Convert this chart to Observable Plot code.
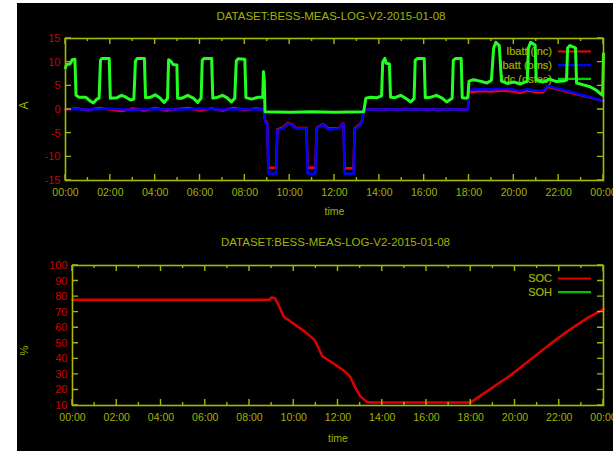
<!DOCTYPE html>
<html><head><meta charset="utf-8">
<script src="https://cdn.jsdelivr.net/npm/d3@7"></script>
<script src="https://cdn.jsdelivr.net/npm/@observablehq/plot@0.6"></script>
<style>
html,body{margin:0;padding:0;background:#fff;width:613px;height:451px;overflow:hidden}
#bg{position:absolute;left:17px;top:3px;width:596px;height:448px;background:#000}
.title{position:absolute;font-family:"Liberation Sans",Arial,sans-serif;font-size:11.5px;color:#a2b300;text-align:center;white-space:nowrap;line-height:13px}
#p1{position:absolute;left:17px;top:28px}
#p2{position:absolute;left:17px;top:255px}
</style></head><body>
<div id="bg"></div>
<div class="title" style="left:62px;width:538px;top:10px">DATASET:BESS-MEAS-LOG-V2-2015-01-08</div>
<div class="title" style="left:70px;width:531px;top:236px">DATASET:BESS-MEAS-LOG-V2-2015-01-08</div>
<div id="p1"></div>
<div id="p2"></div>
<script>
// ---------- data ----------
const xTicks = [0,2,4,6,8,10,12,14,16,18,20,22,24];
const xTickLabels = ["00:00","02:00","04:00","06:00","08:00","10:00","12:00","14:00","16:00","18:00","20:00","22:00","00:00"];
const xMinor = [1,3,5,7,9,11,13,15,17,19,21,23];
const yTicksA = [-15,-10,-5,0,5,10,15];
const yTicksPct = [10,20,30,40,50,60,70,80,90,100];
const legendTop = ["Ibatt (inc)","Ibatt (bms)","Idc (dstec)"];
const legendBottom = ["SOC","SOH"];

// Ibatt (inc) [hour, A]
const ibattInc = [[0,0],[0.5,0.2],[1,-0.1],[1.5,0.3],[2,0],[2.5,-0.3],[3,0.2],[3.5,-0.2],[4,0.3],[4.5,-0.2],[5,0.1],[5.5,0.3],[6,-0.2],[6.5,0.2],[7,-0.2],[7.5,0.3],[8,-0.1],[8.5,0.2],[8.85,0],
 [8.9,-2.2],[9.0,-3.0],[9.05,-12.3],[9.4,-12.3],[9.45,-4.2],[9.7,-3.8],[9.9,-2.9],[10.1,-3.1],[10.3,-3.9],[10.75,-3.9],[10.8,-12.3],[11.15,-12.3],[11.2,-3.9],[11.5,-3.1],[11.7,-4.0],[12.2,-3.9],[12.4,-2.9],[12.45,-12.4],[12.85,-12.4],[12.9,-4.0],[13.1,-3.3],[13.25,-2.3],[13.3,0],
 [17.95,0],[18.0,3.6],[18.5,3.9],[19.0,3.8],[19.5,4.0],[20.0,3.8],[20.3,3.5],[20.6,4.0],[21.0,3.7],[21.3,3.6],[21.5,4.8],[22.0,4.2],[22.5,3.6],[23.0,3.0],[23.5,2.4],[24.0,1.8]];

// Ibatt (bms) [hour, A]
const ibattBms = [[0,0.1],[1,0],[2,0.15],[3,-0.05],[4,0.1],[5,0],[6,0.15],[7,0],[8,0.1],[8.85,0],
 [8.9,-2.5],[9.0,-3.2],[9.05,-13.5],[9.4,-13.5],[9.45,-4.4],[9.7,-4.0],[9.9,-3.0],[10.1,-3.2],[10.3,-4.0],[10.75,-4.0],[10.8,-13.5],[11.15,-13.5],[11.2,-4.0],[11.5,-3.2],[11.7,-4.2],[12.2,-4.0],[12.4,-3.0],[12.45,-13.6],[12.85,-13.6],[12.9,-4.2],[13.1,-3.5],[13.25,-2.5],[13.3,0],
 [17.95,0],[18.0,4.1],[18.5,4.3],[19.0,4.2],[19.5,4.4],[20.0,4.2],[20.3,3.9],[20.6,4.3],[21.0,4.0],[21.3,3.9],[21.5,5.0],[22.0,4.4],[22.5,3.8],[23.0,3.1],[23.5,2.5],[24.0,1.8]];

// Idc (dstec) [hour, A]
const idcDstec = [[0,8.8],[0.05,9.5],[0.2,9.6],[0.3,10.5],[0.42,10.6],[0.47,3.0],[0.6,2.6],[0.9,2.6],[1.1,1.8],[1.25,1.4],[1.4,2.2],[1.5,2.4],[1.56,10.4],[1.62,10.8],[1.95,10.8],[2.0,2.4],[2.3,2.5],[2.5,3.0],[2.7,2.6],[2.9,2.0],[3.05,2.2],[3.12,10.2],[3.2,10.8],[3.52,10.8],[3.57,2.5],[3.8,2.6],[4.0,3.1],[4.2,2.5],[4.4,1.5],[4.55,2.3],[4.6,10.5],[4.7,10.2],[4.8,9.5],[4.97,9.4],[5.0,2.4],[5.2,2.4],[5.45,3.0],[5.7,2.4],[5.9,1.5],[6.05,2.4],[6.1,10.4],[6.18,10.8],[6.52,10.8],[6.57,2.4],[6.8,2.6],[7.0,3.0],[7.2,2.5],[7.4,1.6],[7.55,2.4],[7.62,10.3],[7.7,10.7],[8.0,10.6],[8.05,2.5],[8.3,2.2],[8.6,2.6],[8.8,2.6],[8.83,8.0],[8.87,6.0],[8.9,-0.5],
 [10,-0.6],[11,-0.5],[12,-0.6],[13.3,-0.5],[13.4,2.4],[13.6,2.6],[13.9,2.5],[14.1,2.9],[14.15,10.0],[14.25,10.8],[14.3,9.8],[14.45,9.6],[14.5,2.6],[14.7,2.5],[14.95,3.0],[15.2,2.3],[15.4,1.6],[15.55,2.3],[15.6,10.4],[15.7,10.8],[16.0,10.8],[16.05,2.5],[16.3,2.6],[16.55,3.0],[16.8,2.4],[17.0,1.6],[17.25,2.4],[17.3,10.4],[17.4,10.8],[17.65,10.8],[17.7,2.5],[17.9,2.4],[17.95,2.6],
 [18.0,6.0],[18.2,6.3],[18.5,6.0],[18.8,5.6],[19.0,6.2],[19.1,13.0],[19.2,14.2],[19.35,13.5],[19.45,6.0],[19.7,5.5],[20.0,5.8],[20.3,5.4],[20.6,6.0],[20.65,13.0],[20.75,14.2],[20.95,13.6],[21.0,6.2],[21.3,5.8],[21.6,6.4],[21.9,5.9],[22.2,6.0],[22.35,6.2],[22.4,13.0],[22.5,13.5],[22.75,13.0],[22.8,5.6],[23.1,5.2],[23.4,4.8],[23.7,4.0],[23.9,3.2],[23.96,3.0],[24.0,11.8]];

// SOC [hour, %]
const soc = [[0,78],[8.9,78],[9.0,79.5],[9.15,79],[9.3,75],[9.55,67],[10.0,62.5],[10.5,57.5],[10.95,52],[11.3,41.5],[11.75,37.5],[12.3,32],[12.55,28.5],[12.8,21],[13.0,16],[13.3,12.3],[13.5,12],[18.0,12],[19.8,29.5],[21.5,48.5],[22.4,58],[23.3,66.5],[24,72]];

// ---------- style ----------
const olive = "#a6b800";
const txt = "#a2b300";
const redLbl = "#d00000";
const font = '"Liberation Sans", Arial, sans-serif';
const topColors = ["#ff0000","#0000ff","#00d000"];
const bottomColors = ["#e00000","#00c000"];

function frameTicks(yt) {
  return (index, scales, values, dim) => {
    const {x, y} = scales;
    const L = dim.marginLeft, R = dim.width - dim.marginRight, T = dim.marginTop, B = dim.height - dim.marginBottom;
    const p = [];
    for (const t of xTicks) { const X = x(t); p.push(`M${X},${B}v-6M${X},${T}v6`); }
    for (const t of xMinor) { const X = x(t); p.push(`M${X},${B}v-3M${X},${T}v3`); }
    for (const v of yt) { const Y = y(v); p.push(`M${L},${Y}h6M${R},${Y}h-6`); }
    const g = d3.create("svg:g");
    g.append("path").attr("d", p.join("")).attr("stroke", olive).attr("stroke-width", 1.4).attr("fill", "none");
    return g.node();
  };
}
function legend(labels, colors) {
  return (index, scales, values, dim) => {
    const R = dim.width - dim.marginRight, T = dim.marginTop;
    const g = d3.create("svg:g");
    labels.forEach((lab, i) => {
      const yy = T + 13.5 + i * 13.7;
      g.append("text").attr("x", R - 51).attr("y", yy).attr("dy", "0.35em").attr("text-anchor", "end")
        .attr("fill", txt).attr("stroke", txt).attr("stroke-width", 0.2)
        .attr("font-size", 11).attr("font-family", font).text(lab);
      g.append("line").attr("x1", R - 45).attr("x2", R - 12).attr("y1", yy).attr("y2", yy)
        .attr("stroke", colors[i]).attr("stroke-width", 2.2);
    });
    return g.node();
  };
}
const xfmt = d => xTickLabels[xTicks.indexOf(d)];
const common = {
  width: 596,
  style: {background: "transparent", color: txt, fontFamily: font, fontSize: "10.5px", overflow: "visible"},
};

const plot1 = Plot.plot({
  ...common, height: 197, marginLeft: 48, marginRight: 10, marginTop: 10, marginBottom: 45,
  x: {domain: [0, 24]},
  y: {domain: [-15, 15]},
  marks: [
    legend(legendTop, topColors),
    Plot.line(ibattInc, {x: d => d[0], y: d => d[1], stroke: topColors[0], strokeWidth: 2.5}),
    Plot.line(ibattBms, {x: d => d[0], y: d => d[1], stroke: topColors[1], strokeWidth: 2.5}),
    Plot.line(idcDstec, {x: d => d[0], y: d => d[1], stroke: "#22ff22", strokeWidth: 3}),
    Plot.frame({stroke: olive, strokeWidth: 1.6}),
    frameTicks(yTicksA),
    Plot.axisX({ticks: xTicks, tickSize: 0, tickPadding: 8, tickFormat: xfmt, fill: txt, stroke: txt, strokeWidth: 0.2, label: null}),
    Plot.axisY({ticks: yTicksA, tickSize: 0, tickPadding: 5, tickFormat: d => String(d), fill: redLbl, stroke: redLbl, strokeWidth: 0.2, fontSize: 11, label: null}),
    Plot.text(["time"], {frameAnchor: "bottom", dy: 34, fill: txt, fontSize: 10.5}),
    Plot.text(["A"], {frameAnchor: "left", dx: -41, rotate: -90, fill: txt, fontSize: 12})
  ]
});
document.getElementById("p1").appendChild(plot1);

const plot2 = Plot.plot({
  ...common, height: 196, marginLeft: 55, marginRight: 10, marginTop: 10, marginBottom: 46,
  x: {domain: [0, 24]},
  y: {domain: [10, 100]},
  marks: [
    legend(legendBottom, bottomColors),
    Plot.line(soc, {x: d => d[0], y: d => d[1], stroke: bottomColors[0], strokeWidth: 2.5}),
    Plot.frame({stroke: olive, strokeWidth: 1.6}),
    frameTicks(yTicksPct),
    Plot.axisX({ticks: xTicks, tickSize: 0, tickPadding: 8, tickFormat: xfmt, fill: txt, stroke: txt, strokeWidth: 0.2, label: null}),
    Plot.axisY({ticks: yTicksPct, tickSize: 0, tickPadding: 5, tickFormat: d => String(d), fill: redLbl, stroke: redLbl, strokeWidth: 0.2, fontSize: 11, label: null}),
    Plot.text(["time"], {frameAnchor: "bottom", dy: 36, fill: txt, fontSize: 10.5}),
    Plot.text(["%"], {frameAnchor: "left", dx: -48, dy: 20, rotate: -90, fill: txt, fontSize: 11})
  ]
});
document.getElementById("p2").appendChild(plot2);
</script>
</body></html>
